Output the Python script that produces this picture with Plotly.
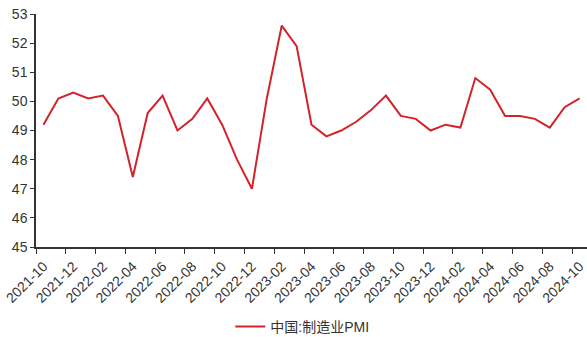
import plotly.graph_objects as go

# China manufacturing PMI, monthly
months = [
    "2021-10", "2021-11", "2021-12", "2022-01", "2022-02", "2022-03", "2022-04",
    "2022-05", "2022-06", "2022-07", "2022-08", "2022-09", "2022-10", "2022-11",
    "2022-12", "2023-01", "2023-02", "2023-03", "2023-04", "2023-05", "2023-06",
    "2023-07", "2023-08", "2023-09", "2023-10", "2023-11", "2023-12", "2024-01",
    "2024-02", "2024-03", "2024-04", "2024-05", "2024-06", "2024-07", "2024-08",
    "2024-09", "2024-10",
]
pmi = [
    49.2, 50.1, 50.3, 50.1, 50.2, 49.5, 47.4,
    49.6, 50.2, 49.0, 49.4, 50.1, 49.2, 48.0,
    47.0, 50.1, 52.6, 51.9, 49.2, 48.8, 49.0,
    49.3, 49.7, 50.2, 49.5, 49.4, 49.0, 49.2,
    49.1, 50.8, 50.4, 49.5, 49.5, 49.4, 49.1,
    49.8, 50.1,
]
series_name = "中国:制造业PMI"

idx = list(range(len(months)))
label_idx = idx[::2]
label_txt = months[::2]

font_family = "Liberation Sans, Arial, Noto Sans CJK SC, sans-serif"

fig = go.Figure()
fig.add_trace(go.Scatter(
    x=idx, y=pmi, mode="lines", name=series_name,
    line=dict(color="#D2232A", width=2),
))

fig.update_layout(
    width=587, height=337,
    margin=dict(l=36, r=0, t=14, b=90),
    paper_bgcolor="white", plot_bgcolor="white",
    font=dict(family=font_family, size=14, color="#333333"),
    showlegend=True,
    legend=dict(
        orientation="h", xref="container", yref="container",
        x=0.515, xanchor="center", y=0.03, yanchor="middle",
        font=dict(size=14, color="#333333"),
        itemwidth=30,
    ),
)

fig.update_xaxes(
    range=[-0.5, len(months) - 0.5],
    tickmode="array", tickvals=label_idx, ticktext=label_txt,
    tickangle=-45, ticks="", ticklabelstandoff=4,
    minor=dict(tick0=-0.5, dtick=2, ticks="outside", ticklen=5,
               tickcolor="#333333", tickwidth=1),
    showline=True, linecolor="#333333", linewidth=1.5,
    showgrid=False, zeroline=False,
)
fig.update_yaxes(
    range=[45, 53], dtick=1,
    ticks="outside", ticklen=4, tickcolor="#333333",
    showline=True, linecolor="#333333", linewidth=1.5,
    showgrid=False, zeroline=False,
)

fig.write_html("out.html")
